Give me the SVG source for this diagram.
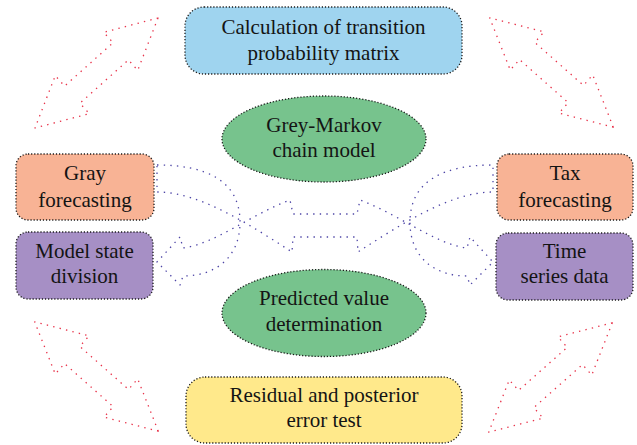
<svg xmlns="http://www.w3.org/2000/svg" xmlns:xlink="http://www.w3.org/1999/xlink" width="637" height="445" viewBox="0 0 637 445">
<style>
.node{stroke:#1a1a1a;stroke-width:1.3;stroke-dasharray:1.2 1.9;}
.blue{fill:#9fd4ef;}
.green{fill:#77c38d;}
.salmon{fill:#f8b395;}
.purple{fill:#a68fc5;}
.yellow{fill:#ffe98b;}
text{font-family:'Liberation Serif','DejaVu Serif',serif;font-size:21px;fill:#141414;text-anchor:middle;}
.red{fill:none;stroke:#e8334a;stroke-width:1.3;stroke-dasharray:1.4 5.2;stroke-linejoin:round;}
.flow{fill:none;stroke:#4d45a6;stroke-width:1.3;stroke-dasharray:1.4 5.2;stroke-linejoin:round;}
</style>
<defs>
<path id="dbl" d="M82.5,0 L32.5,-25.5 L32.5,-11.5 L-32.5,-11.5 L-32.5,-25.5 L-82.5,0 L-32.5,25.5 L-32.5,11.5 L32.5,11.5 L32.5,25.5 Z"/>
</defs>
<rect width="637" height="445" fill="#ffffff"/>
<g id="connectors">
<use xlink:href="#dbl" class="red" transform="translate(96.5,73) rotate(-41.8)"/>
<use xlink:href="#dbl" class="red" transform="translate(551.5,72.5) rotate(41.5)"/>
<use xlink:href="#dbl" class="red" transform="translate(96.5,376.5) rotate(41.5)"/>
<use xlink:href="#dbl" class="red" transform="translate(550.5,377.5) rotate(-41.5)"/>
<path class="flow" d="M157,165 C205,165 240,180 240,222 C240,258 215,276 183,276 L180,285 L157,262 L180,237 L183,248 C215,244 250,215 290,200 L293,214 L357,214 L360,200 C400,215 435,244 467,248 L470,237 L493,262 L470,285 L467,276 C435,276 410,258 410,222 C410,180 445,165 493,165 L493,192 C450,192 400,225 358,252 L357,237 L293,237 L292,252 C250,225 200,192 157,192 Z"/>
</g>
<g id="node-transition">
<rect class="node blue" x="185" y="7" width="277" height="67" rx="19"/>
<text x="323.5" y="34" font-family="Liberation Serif, serif">Calculation of transition</text>
<text x="323.5" y="60" font-family="Liberation Serif, serif">probability matrix</text>
</g>
<g id="node-greymarkov">
<ellipse class="node green" cx="324" cy="139" rx="102" ry="43"/>
<text x="324" y="132" font-family="Liberation Serif, serif">Grey-Markov</text>
<text x="324" y="157" font-family="Liberation Serif, serif">chain model</text>
</g>
<g id="node-gray">
<rect class="node salmon" x="16" y="154" width="138" height="66" rx="12"/>
<text x="85" y="180" font-family="Liberation Serif, serif">Gray</text>
<text x="85" y="207" font-family="Liberation Serif, serif">forecasting</text>
</g>
<g id="node-modelstate">
<rect class="node purple" x="16" y="232" width="137" height="67" rx="12"/>
<text x="84.5" y="258" font-family="Liberation Serif, serif">Model state</text>
<text x="84.5" y="283" font-family="Liberation Serif, serif">division</text>
</g>
<g id="node-tax">
<rect class="node salmon" x="497" y="154" width="136" height="66" rx="12"/>
<text x="565" y="180" font-family="Liberation Serif, serif">Tax</text>
<text x="565" y="207" font-family="Liberation Serif, serif">forecasting</text>
</g>
<g id="node-timeseries">
<rect class="node purple" x="496" y="233" width="137" height="67" rx="12"/>
<text x="564.5" y="258" font-family="Liberation Serif, serif">Time</text>
<text x="564.5" y="283" font-family="Liberation Serif, serif">series data</text>
</g>
<g id="node-predicted">
<ellipse class="node green" cx="324" cy="313" rx="102" ry="43.5"/>
<text x="324" y="305" font-family="Liberation Serif, serif">Predicted value</text>
<text x="324" y="331" font-family="Liberation Serif, serif">determination</text>
</g>
<g id="node-residual">
<rect class="node yellow" x="186" y="377" width="276" height="66" rx="19"/>
<text x="324" y="402" font-family="Liberation Serif, serif">Residual and posterior</text>
<text x="324" y="427" font-family="Liberation Serif, serif">error test</text>
</g>
</svg>
